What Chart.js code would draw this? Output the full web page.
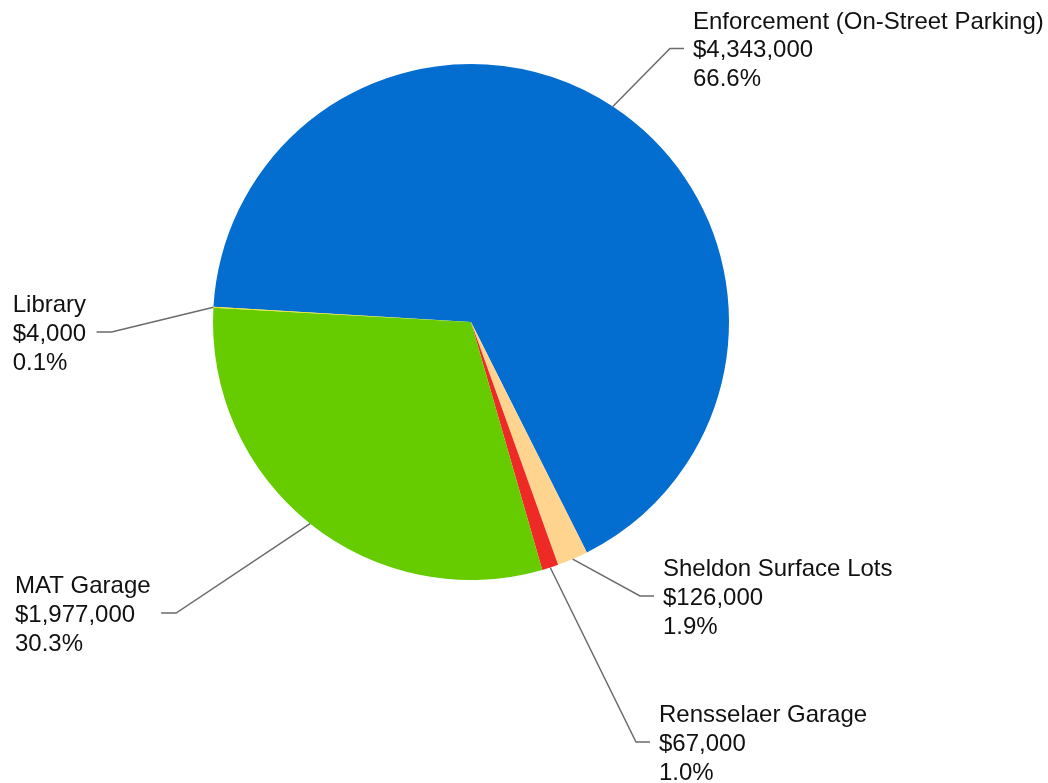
<!DOCTYPE html>
<html>
<head>
<meta charset="utf-8">
<script src="https://cdn.jsdelivr.net/npm/chart.js@4"></script>
<style>
  html, body { margin: 0; padding: 0; background: #fff; }
  #wrap { width: 1048px; height: 783px; }
</style>
</head>
<body>
<div id="wrap"><canvas id="chart" width="1048" height="783"></canvas></div>
<script>
const categories = ['Enforcement (On-Street Parking)', 'Sheldon Surface Lots', 'Rensselaer Garage', 'MAT Garage', 'Library'];
const revenue = [4343000, 126000, 67000, 1977000, 4000];
const sliceColors = ['#036dd0', '#ffd48f', '#ee2a26', '#66cc00', '#f0e21a'];

// where each label block sits (left x, first baseline) and which side the leader comes from
const labelLayout = [
    { x: 693, y: 28.5, side: 'right' },
    { x: 663, y: 576, side: 'right' },
    { x: 659, y: 722, side: 'right' },
    { x: 15, y: 593, side: 'left' },
    { x: 12.7, y: 312, side: 'left' }
];

const total = revenue.reduce((a, b) => a + b, 0);
const FONT = '24px "Liberation Sans", Arial, sans-serif';
const LINE_H = 28.8;

const leaderLabels = {
    id: 'leaderLabels',
    afterDraw(chart) {
        const ctx = chart.ctx;
        const meta = chart.getDatasetMeta(0);
        ctx.save();
        ctx.font = FONT;
        meta.data.forEach((arc, i) => {
            const p = arc.getProps(['x', 'y', 'startAngle', 'endAngle', 'outerRadius'], true);
            const mid = (p.startAngle + p.endAngle) / 2;
            const sx = p.x + Math.cos(mid) * p.outerRadius;
            const sy = p.y + Math.sin(mid) * p.outerRadius;

            const lay = labelLayout[i];
            const lines = [
                categories[i],
                '$' + revenue[i].toLocaleString('en-US'),
                (revenue[i] / total * 100).toFixed(1) + '%'
            ];
            const lineY = lay.y + 20;
            let elbowX, endX;
            if (lay.side === 'right') {
                endX = lay.x - 9;
                elbowX = endX - 14;
            } else {
                const w = Math.max(...lines.map(t => ctx.measureText(t).width));
                endX = lay.x + w + 10.5;
                elbowX = endX + 15;
            }

            ctx.strokeStyle = '#6b6b6b';
            ctx.lineWidth = 1.5;
            ctx.beginPath();
            ctx.moveTo(sx, sy);
            ctx.lineTo(elbowX, lineY);
            ctx.lineTo(endX, lineY);
            ctx.stroke();

            ctx.fillStyle = '#111';
            ctx.textAlign = 'left';
            ctx.textBaseline = 'alphabetic';
            lines.forEach((t, k) => ctx.fillText(t, lay.x, lay.y + k * LINE_H));
        });
        ctx.restore();
    }
};

new Chart(document.getElementById('chart'), {
    type: 'pie',
    data: {
        labels: categories,
        datasets: [{
            data: revenue,
            backgroundColor: sliceColors,
            borderWidth: 0
        }]
    },
    options: {
        responsive: false,
        animation: false,
        rotation: 273.4,
        layout: { padding: { left: 213, right: 319, top: 64, bottom: 203 } },
        plugins: {
            legend: { display: false },
            tooltip: { enabled: false }
        }
    },
    plugins: [leaderLabels]
});
</script>
</body>
</html>
